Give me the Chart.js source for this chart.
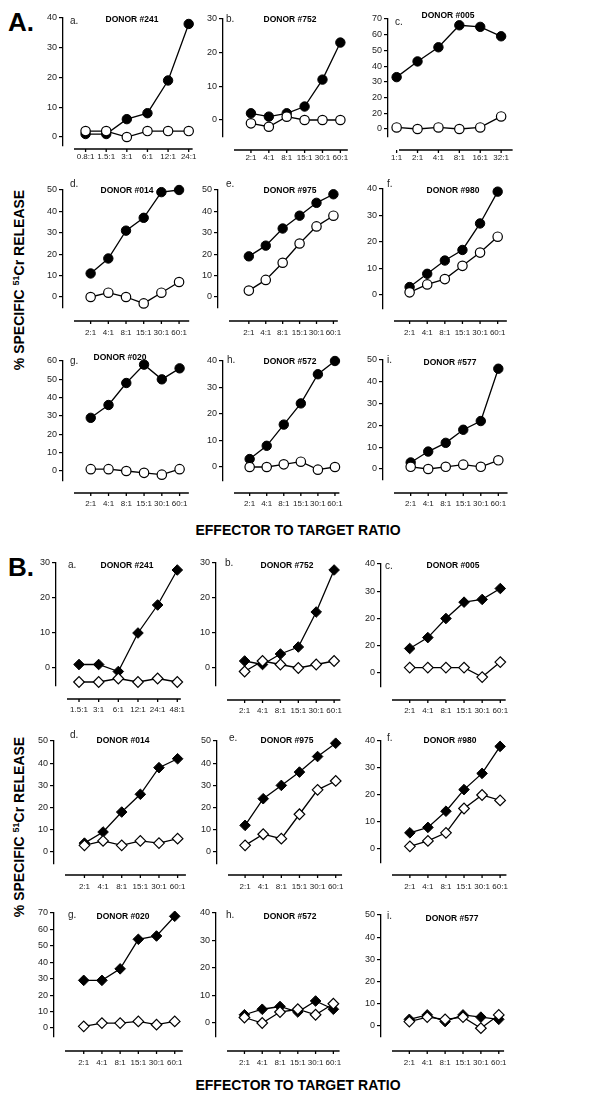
<!DOCTYPE html>
<html><head><meta charset="utf-8">
<script src="https://cdn.jsdelivr.net/npm/chart.js@4.4.1/dist/chart.umd.min.js"></script>
<style>
html,body{margin:0;padding:0;background:#fff}
body{width:599px;height:1097px;position:relative;overflow:hidden;font-family:"Liberation Sans",Arial,sans-serif;color:#000}
canvas{position:absolute}
.t{position:absolute;white-space:nowrap;line-height:1}
.big{font-weight:bold;font-size:26px;transform:translateY(-50%)}
.ttl{font-weight:bold;font-size:14px;transform:translate(-50%,-50%)}
.yt{font-weight:bold;font-size:14px;transform:translate(-50%,-50%) rotate(-90deg)}
.yt sup{font-size:9px;vertical-align:5px}
.donor{font-weight:bold;font-size:8.5px;transform:translate(-50%,-50%)}
.let{font-size:10px;transform:translateY(-50%);color:#222}
</style>
</head><body>
<div class="t big" style="left:8px;top:22px">A.</div>
<div class="t big" style="left:8px;top:567px">B.</div>
<div class="t yt" style="left:19px;top:280px">% SPECIFIC <sup>51</sup>Cr RELEASE</div>
<div class="t yt" style="left:19px;top:827px">% SPECIFIC <sup>51</sup>Cr RELEASE</div>
<div class="t ttl" style="left:298px;top:530px">EFFECTOR TO TARGET RATIO</div>
<div class="t ttl" style="left:298px;top:1085px">EFFECTOR TO TARGET RATIO</div>
<script>
// ---------- categories (effector:target ratios) ----------
const ratiosAa = ['0.8:1','1.5:1','3:1','6:1','12:1','24:1'];
const ratiosAc = ['1:1','2:1','4:1','8:1','16:1','32:1'];
const ratiosBa = ['1.5:1','3:1','6:1','12:1','24:1','48:1'];
const ratiosStd = ['2:1','4:1','8:1','15:1','30:1','60:1'];

// ---------- y tick labels ----------
const yTicks30 = ['0','10','20','30'];
const yTicks40 = ['0','10','20','30','40'];
const yTicks50 = ['0','10','20','30','40','50'];
const yTicks60 = ['0','10','20','30','40','50','60'];
const yTicks70 = ['0','10','20','30','40','50','60','70'];
const yTicksAc = ['0','20','20','30','40','50','60','70'];
const yTicksBc = ['0','20','20','30','40'];

// ---------- panel A (circles) ----------
const A_a_filled = [1,1,6,8,19,38];    const A_a_open = [2,2,0,2,2,2];
const A_b_filled = [2,1,2,4,12,23];    const A_b_open = [-1,-2,1,0,0,0];
const A_c_filled = [33,43,52,66,65,59];const A_c_open = [1,0,1,0,1,8];
const A_d_filled = [11,18,31,37,49,50];const A_d_open = [0,2,0,-3,2,7];
const A_e_filled = [19,24,32,38,44,48];const A_e_open = [3,8,16,25,33,38];
const A_f_filled = [3,8,13,17,27,39];  const A_f_open = [1,4,6,11,16,22];
const A_g_filled = [29,36,48,58,50,56];const A_g_open = [1,1,0,-1,-2,1];
const A_h_filled = [3,8,16,24,35,40];  const A_h_open = [0,0,1,2,-1,0];
const A_i_filled = [3,8,12,18,22,46];  const A_i_open = [1,0,1,2,1,4];

// ---------- panel B (diamonds) ----------
const B_a_filled = [1,1,-1,10,18,28];  const B_a_open = [-4,-4,-3,-4,-3,-4];
const B_b_filled = [2,1,4,6,16,28];    const B_b_open = [-1,2,1,0,1,2];
const B_c_filled = [9,13,20,26,27,31]; const B_c_open = [2,2,2,2,-1.5,4];
const B_d_filled = [4,9,18,26,38,42];  const B_d_open = [3,5,3,5,4,6];
const B_e_filled = [12,24,30,36,43,49];const B_e_open = [3,8,6,17,28,32];
const B_f_filled = [6,8,14,22,28,38];  const B_f_open = [1,3,6,15,20,18];
const B_g_filled = [29,29,36,54,56,68];const B_g_open = [1,3,3,4,2,4];
const B_h_filled = [3,5,6,4,8,5];      const B_h_open = [2,0,4,5,3,7];
const B_i_filled = [3,5,2,5,4,3];      const B_i_open = [2,4,3,4,-1,5];

// ---------- layout of each panel (pixels on the page) ----------
const panels = [
 {f:A_a_filled,o:A_a_open,cats:ratiosAa,yt:yTicks40,min:-3,m:'circle',axisX:63,firstX:86,lastX:191,xEnd:195,topY:18,zeroY:137,xLineY:149,labOff:8,let:'a.',lx:70,ly:21,donor:'DONOR #241',dx:132,dy:19},
 {f:A_b_filled,o:A_b_open,cats:ratiosStd,yt:yTicks30,min:-5,m:'circle',axisX:223,firstX:253,lastX:349,xEnd:357,topY:19,zeroY:120,xLineY:150,labOff:8,let:'b.',lx:226,ly:19,donor:'DONOR #752',dx:290,dy:19},
 {f:A_c_filled,o:A_c_open,cats:ratiosAc,yt:yTicksAc,min:-5,m:'circle',axisX:388,firstX:397,lastX:506,xEnd:518,topY:19,zeroY:129,xLineY:150,labOff:8,let:'c.',lx:395,ly:22,donor:'DONOR #005',dx:448,dy:15},
 {f:A_d_filled,o:A_d_open,cats:ratiosStd,yt:yTicks50,min:-5,m:'circle',axisX:63,firstX:93,lastX:189,xEnd:200,topY:190,zeroY:297,xLineY:321,labOff:12,let:'d.',lx:70,ly:184,donor:'DONOR #014',dx:127,dy:190},
 {f:A_e_filled,o:A_e_open,cats:ratiosStd,yt:yTicks50,min:-5,m:'circle',axisX:218,firstX:253,lastX:349,xEnd:354,topY:190,zeroY:297,xLineY:321,labOff:12,let:'e.',lx:226,ly:184,donor:'DONOR #975',dx:290,dy:190},
 {f:A_f_filled,o:A_f_open,cats:ratiosStd,yt:yTicks40,min:-5,m:'circle',axisX:383,firstX:412,lastX:508,xEnd:518,topY:189,zeroY:295,xLineY:321,labOff:12,let:'f.',lx:387,ly:184,donor:'DONOR #980',dx:453,dy:190},
 {f:A_g_filled,o:A_g_open,cats:ratiosStd,yt:yTicks60,min:-5,m:'circle',axisX:63,firstX:93,lastX:189,xEnd:199,topY:361,zeroY:471,xLineY:493,labOff:11,let:'g.',lx:70,ly:361,donor:'DONOR #020',dx:120,dy:357},
 {f:A_h_filled,o:A_h_open,cats:ratiosStd,yt:yTicks40,min:-5,m:'circle',axisX:223,firstX:253,lastX:349,xEnd:354,topY:361,zeroY:467,xLineY:493,labOff:11,let:'h.',lx:227,ly:360,donor:'DONOR #572',dx:290,dy:361},
 {f:A_i_filled,o:A_i_open,cats:ratiosStd,yt:yTicks50,min:-5,m:'circle',axisX:383,firstX:413,lastX:508,xEnd:518,topY:360,zeroY:469,xLineY:493,labOff:11,let:'i.',lx:387,ly:360,donor:'DONOR #577',dx:450,dy:362},

 {f:B_a_filled,o:B_a_open,cats:ratiosBa,yt:yTicks30,min:-5,m:'rectRot',axisX:56,firstX:82,lastX:193,xEnd:197,topY:563,zeroY:668,xLineY:699,labOff:11,let:'a.',lx:68,ly:565,donor:'DONOR #241',dx:127,dy:565},
 {f:B_b_filled,o:B_b_open,cats:ratiosStd,yt:yTicks30,min:-5,m:'rectRot',axisX:216,firstX:248,lastX:348,xEnd:355,topY:563,zeroY:668,xLineY:700,labOff:11,let:'b.',lx:225,ly:563,donor:'DONOR #752',dx:287,dy:565},
 {f:B_c_filled,o:B_c_open,cats:ratiosStd,yt:yTicksBc,min:-5,m:'rectRot',axisX:381,firstX:413,lastX:514,xEnd:520,topY:564,zeroY:673,xLineY:700,labOff:11,let:'c.',lx:385,ly:566,donor:'DONOR #005',dx:453,dy:565},
 {f:B_d_filled,o:B_d_open,cats:ratiosStd,yt:yTicks50,min:-5,m:'rectRot',axisX:54,firstX:87,lastX:188,xEnd:197,topY:741,zeroY:852,xLineY:875,labOff:12,let:'d.',lx:70,ly:735,donor:'DONOR #014',dx:123,dy:740},
 {f:B_e_filled,o:B_e_open,cats:ratiosStd,yt:yTicks50,min:-5,m:'rectRot',axisX:217,firstX:248,lastX:348,xEnd:355,topY:741,zeroY:852,xLineY:875,labOff:12,let:'e.',lx:229,ly:738,donor:'DONOR #975',dx:287,dy:740},
 {f:B_f_filled,o:B_f_open,cats:ratiosStd,yt:yTicks40,min:-5,m:'rectRot',axisX:381,firstX:413,lastX:513,xEnd:520,topY:741,zeroY:849,xLineY:875,labOff:12,let:'f.',lx:387,ly:738,donor:'DONOR #980',dx:450,dy:740},
 {f:B_g_filled,o:B_g_open,cats:ratiosStd,yt:yTicks70,min:-5,m:'rectRot',axisX:54,firstX:87,lastX:188,xEnd:197,topY:913,zeroY:1028,xLineY:1051,labOff:12,let:'g.',lx:68,ly:915,donor:'DONOR #020',dx:123,dy:916},
 {f:B_h_filled,o:B_h_open,cats:ratiosStd,yt:yTicks40,min:-5,m:'rectRot',axisX:216,firstX:248,lastX:348,xEnd:355,topY:913,zeroY:1023,xLineY:1051,labOff:12,let:'h.',lx:226,ly:915,donor:'DONOR #572',dx:290,dy:916},
 {f:B_i_filled,o:B_i_open,cats:ratiosStd,yt:yTicks50,min:-5,m:'rectRot',axisX:381,firstX:413,lastX:514,xEnd:520,topY:915,zeroY:1026,xLineY:1051,labOff:12,let:'i.',lx:387,ly:916,donor:'DONOR #577',dx:452,dy:918}
];

Chart.defaults.font.family = "'Liberation Sans', Arial, sans-serif";
Chart.defaults.color = '#111';
const PT = 8, PR = 8, YW = 34, XGAP = 11;

function addText(cls, txt, x, y){
  const d = document.createElement('div');
  d.className = 't ' + cls; d.textContent = txt;
  d.style.left = x + 'px'; d.style.top = y + 'px';
  document.body.appendChild(d);
}

panels.forEach(p => {
  const n = p.cats.length;
  const yMax = (p.yt.length - 1) * 10;
  const ppu = (p.zeroY - p.topY) / yMax;
  const botY = p.zeroY - p.min * ppu;
  const spacing = (p.lastX - p.firstX) / (n - 1);
  const xMin = -(p.firstX - p.axisX) / spacing;
  const xMax = (n - 1) + (p.xEnd - p.lastX) / spacing;
  const gapX = p.xLineY - botY;
  const W = Math.round(YW + (p.xEnd - p.axisX) + PR);
  const Ht = Math.round(PT + (botY - p.topY) + gapX + p.labOff + 10);
  const H = Ht - PT - (botY - p.topY);
  const cv = document.createElement('canvas');
  cv.width = W; cv.height = Ht;
  cv.style.left = (p.axisX - YW) + 'px';
  cv.style.top = (p.topY - PT) + 'px';
  cv.style.width = W + 'px'; cv.style.height = Ht + 'px';
  document.body.appendChild(cv);

  const filledPts = p.f.map((v, i) => ({x: i, y: v}));
  const openPts = p.o.map((v, i) => ({x: i, y: v}));
  const r = p.m === 'circle' ? 4.7 : 5.3;

  new Chart(cv, {
    type: 'line',
    data: { datasets: [
      { data: openPts, borderColor: '#000', borderWidth: 1.3, backgroundColor: '#fff',
        pointStyle: p.m, pointRadius: r, pointBorderWidth: 1.2, pointBackgroundColor: '#fff',
        pointBorderColor: '#000', tension: 0, clip: false },
      { data: filledPts, borderColor: '#000', borderWidth: 1.3, backgroundColor: '#000',
        pointStyle: p.m, pointRadius: r, pointBorderWidth: 1, pointBackgroundColor: '#000',
        pointBorderColor: '#000', tension: 0, clip: false }
    ]},
    options: {
      responsive: false, animation: false, devicePixelRatio: 1,
      layout: { autoPadding: false, padding: { top: PT, right: PR, left: 0, bottom: 0 } },
      plugins: { legend: { display: false }, tooltip: { enabled: false }, title: { display: false } },
      scales: {
        x: {
          type: 'linear', min: xMin, max: xMax,
          border: { display: false },
          grid: { display: false, drawTicks: false },
          afterBuildTicks: s => { s.ticks = p.cats.map((_, i) => ({ value: i })); },
          afterFit: s => { s.height = H; },
          ticks: { autoSkip: false, maxRotation: 0, minRotation: 0,
            padding: gapX + p.labOff - 4.8,
            font: { size: 8 }, color: '#222',
            callback: (v, i) => p.cats[i] }
        },
        y: {
          min: p.min, max: yMax,
          border: { display: true, color: '#000', width: 1.3 },
          grid: { drawOnChartArea: false, drawTicks: true, tickLength: 4, color: '#000', lineWidth: 1.2 },
          afterBuildTicks: s => { s.ticks = p.yt.map((_, i) => ({ value: i * 10 })); },
          afterFit: s => { s.width = YW; },
          ticks: { padding: 2, font: { size: 9 }, color: '#222', callback: (v, i) => p.yt[i] }
        }
      }
    },
    plugins: [{
      id: 'xline',
      afterDraw(chart) {
        const { ctx, chartArea, scales } = chart;
        const yL = chartArea.bottom + gapX;
        ctx.save();
        ctx.strokeStyle = '#000'; ctx.lineWidth = 1.3;
        ctx.beginPath();
        ctx.moveTo(chartArea.left + XGAP, yL); ctx.lineTo(chartArea.right, yL);
        scales.x.ticks.forEach(t => {
          const px = scales.x.getPixelForValue(t.value);
          ctx.moveTo(px, yL); ctx.lineTo(px, yL + 3);
        });
        ctx.stroke(); ctx.restore();
      }
    }]
  });

  addText('let', p.let, p.lx, p.ly);
  addText('donor', p.donor, p.dx, p.dy);
});
</script>
</body></html>
